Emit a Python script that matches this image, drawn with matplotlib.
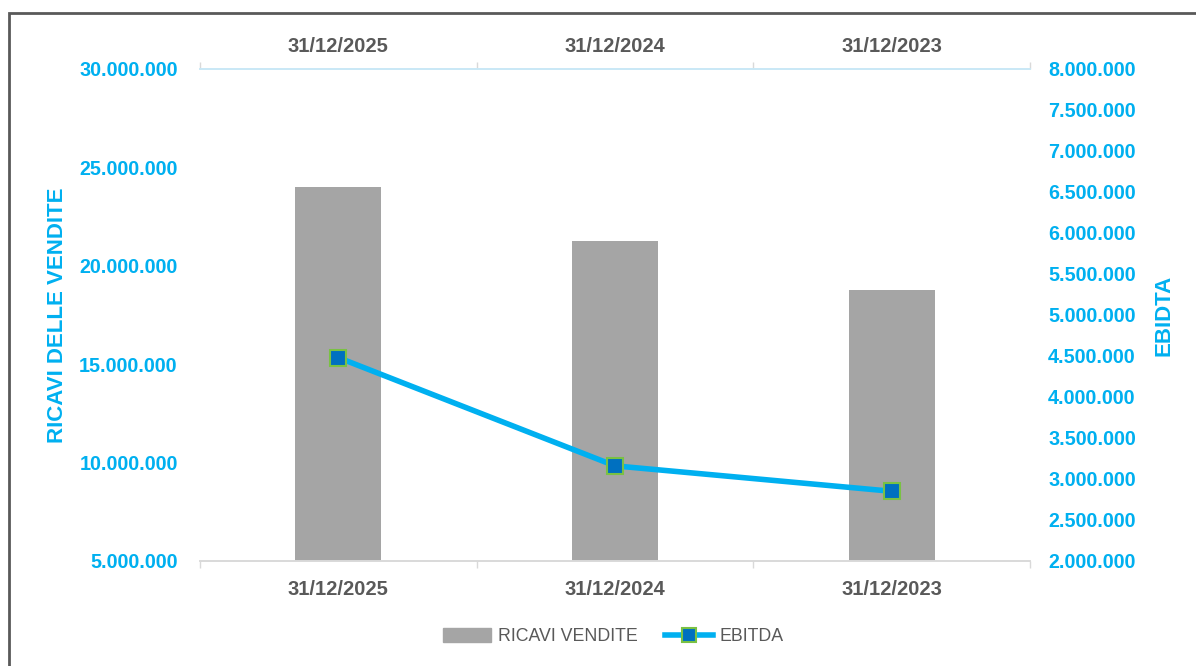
import matplotlib.pyplot as plt
from matplotlib.patches import Rectangle
from matplotlib.lines import Line2D
from matplotlib.ticker import FuncFormatter

# data
periods = ["31/12/2025", "31/12/2024", "31/12/2023"]
ricavi = [24000000, 21250000, 18750000]
ebitda = [4480000, 3160000, 2850000]

cyan = "#00B0F0"
gray_txt = "#595959"

plt.rcParams['font.family'] = ['Liberation Sans', 'DejaVu Sans']

fig = plt.figure(figsize=(11.96, 6.66), dpi=100)
ax = fig.add_axes([0.1672, 0.1577, 0.694, 0.7387])
ax2 = ax.twinx()

x = list(range(len(periods)))
ax.bar(x, ricavi, width=0.31, color="#A5A5A5", zorder=2)
ax2.plot(x, ebitda, color=cyan, linewidth=4, marker="s", markersize=11,
         markerfacecolor="#0070C0", markeredgecolor="#7AC143", markeredgewidth=1.5,
         zorder=3)

ax.set_xlim(-0.5, 2.5)
ax.set_ylim(5000000, 30000000)
ax.set_yticks(range(5000000, 30000001, 5000000))
ax2.set_ylim(2000000, 8000000)
ax2.set_yticks(range(2000000, 8000001, 500000))

fmt = FuncFormatter(lambda v, p: f"{int(v):,}".replace(",", "."))
ax.yaxis.set_major_formatter(fmt)
ax2.yaxis.set_major_formatter(fmt)

# category boundaries as major ticks, labels on minor ticks
ax.set_xticks([-0.5, 0.5, 1.5, 2.5])
ax.set_xticklabels([])
ax.set_xticks(x, minor=True)
ax.set_xticklabels(periods, minor=True)
ax.tick_params(axis="x", which="major", direction="out", length=5, width=1,
               colors="#D9D9D9", top=True, bottom=True)
ax.tick_params(axis="x", which="minor", length=0, pad=14, labelsize=14.5,
               labelcolor=gray_txt)
for lab in ax.get_xticklabels(minor=True):
    lab.set_fontweight("bold")

# category labels repeated on top
top = ax.secondary_xaxis("top")
top.set_xticks(x)
top.set_xticklabels(periods, fontsize=14.5, fontweight="bold", color=gray_txt)
top.tick_params(length=0, pad=9)
top.spines["top"].set_visible(False)

ax.tick_params(axis="y", length=0, pad=16, labelsize=14.2, labelcolor=cyan)
ax2.tick_params(axis="y", length=0, pad=13, labelsize=14.2, labelcolor=cyan)
for lab in ax.get_yticklabels() + ax2.get_yticklabels():
    lab.set_fontweight("bold")

for a in (ax, ax2):
    a.spines["left"].set_visible(False)
    a.spines["right"].set_visible(False)
    a.spines["top"].set_color("#C9E8F6")
    a.spines["bottom"].set_color("#D9D9D9")
    a.spines["top"].set_linewidth(1.2)
    a.spines["bottom"].set_linewidth(1.2)

ax.set_ylabel("RICAVI DELLE VENDITE", color=cyan, fontsize=16, fontweight="bold", labelpad=8)
ax2.set_ylabel("EBIDTA", color=cyan, fontsize=16, fontweight="bold", labelpad=13)

# legend
handles = [Rectangle((0, 0), 1, 1, color="#A5A5A5"),
           Line2D([0], [0], color=cyan, linewidth=4, marker="s", markersize=10,
                  markerfacecolor="#0070C0", markeredgecolor="#7AC143", markeredgewidth=1.5)]
fig.legend(handles, ["RICAVI VENDITE", "EBITDA"], loc="center", bbox_to_anchor=(0.513, 0.044),
           ncol=2, frameon=False, fontsize=12.8, labelcolor=gray_txt, handlelength=2.7,
           handleheight=0.8, columnspacing=1.5, handletextpad=0.4)

# outer border
fig.patches.append(Rectangle((9 / 1196, -0.1), 1.2, 1 - 13 / 666 + 0.1, transform=fig.transFigure,
                             fill=False, edgecolor="#595959", linewidth=2))

fig.savefig("out.png", dpi=100)
